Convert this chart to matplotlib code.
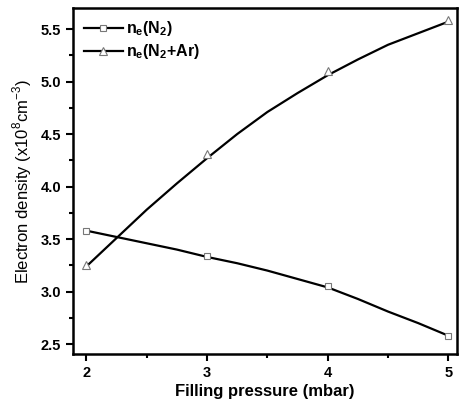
import matplotlib
matplotlib.use("Agg")
import matplotlib.pyplot as plt
from matplotlib.lines import Line2D
from matplotlib.ticker import MultipleLocator

plt.rcParams['font.family'] = ['Liberation Sans', 'DejaVu Sans']

# marker values
pressure = [2, 3, 4, 5]
ne_n2 = [3.58, 3.34, 3.05, 2.58]
ne_n2ar = [3.25, 4.31, 5.10, 5.59]

# smooth curve
curve_x = [2, 2.25, 2.5, 2.75, 3, 3.25, 3.5, 3.75, 4, 4.25, 4.5, 4.75, 5]
curve_n2 = [3.58, 3.52, 3.46, 3.40, 3.33, 3.27, 3.20, 3.12, 3.04, 2.93, 2.81, 2.70, 2.58]
curve_n2ar = [3.24, 3.51, 3.78, 4.03, 4.27, 4.50, 4.71, 4.89, 5.06, 5.21, 5.35, 5.46, 5.57]

fig = plt.figure(figsize=(4.6, 4.01), dpi=100)
ax = fig.add_axes([0.159, 0.117, 0.834, 0.863])

ax.plot(curve_x, curve_n2, color='black', lw=1.6, zorder=2)
ax.plot(curve_x, curve_n2ar, color='black', lw=1.6, zorder=2)
ax.plot(pressure, ne_n2, ls='none', marker='s', ms=5, mfc='white',
        mec='#777777', mew=0.8, zorder=3)
ax.plot(pressure, ne_n2ar, ls='none', marker='^', ms=6, mfc='white',
        mec='#777777', mew=0.8, zorder=3)

h1 = Line2D([], [], color='black', lw=1.6, marker='s', ms=5, mfc='white',
            mec='#777777', mew=0.8)
h2 = Line2D([], [], color='black', lw=1.6, marker='^', ms=6, mfc='white',
            mec='#777777', mew=0.8)
ax.legend([h1, h2], [r'n$_\mathregular{e}$(N$_\mathregular{2}$)',
                     r'n$_\mathregular{e}$(N$_\mathregular{2}$+Ar)'],
          loc='upper left', frameon=False, handlelength=2.4,
          prop={'weight': 'bold', 'size': 11.5}, borderaxespad=0.3,
          handletextpad=0.2, labelspacing=0.25)

ax.set_xlim(1.89, 5.07)
ax.set_ylim(2.405, 5.7)
ax.xaxis.set_major_locator(MultipleLocator(1))
ax.xaxis.set_minor_locator(MultipleLocator(0.5))
ax.yaxis.set_minor_locator(MultipleLocator(0.25))
ax.set_yticks([2.5, 3.0, 3.5, 4.0, 4.5, 5.0, 5.5])
ax.set_yticklabels(['2.5', '3.0', '3.5', '4.0', '4.5', '5.0', '5.5'])
ax.tick_params(which='major', direction='out', length=5, width=1.5,
               labelsize=10.5)
ax.tick_params(which='minor', direction='out', length=3, width=1.5)
for lab in ax.get_xticklabels() + ax.get_yticklabels():
    lab.set_fontweight('bold')
for s in ax.spines.values():
    s.set_linewidth(1.8)

ax.set_xlabel('Filling pressure (mbar)', fontsize=12, fontweight='bold',
              labelpad=3)
ax.set_ylabel(r'Electron density (x10$^\mathregular{8}$cm$^\mathregular{-3}$)',
              fontsize=12, labelpad=5)

fig.savefig('out.png', dpi=100)
